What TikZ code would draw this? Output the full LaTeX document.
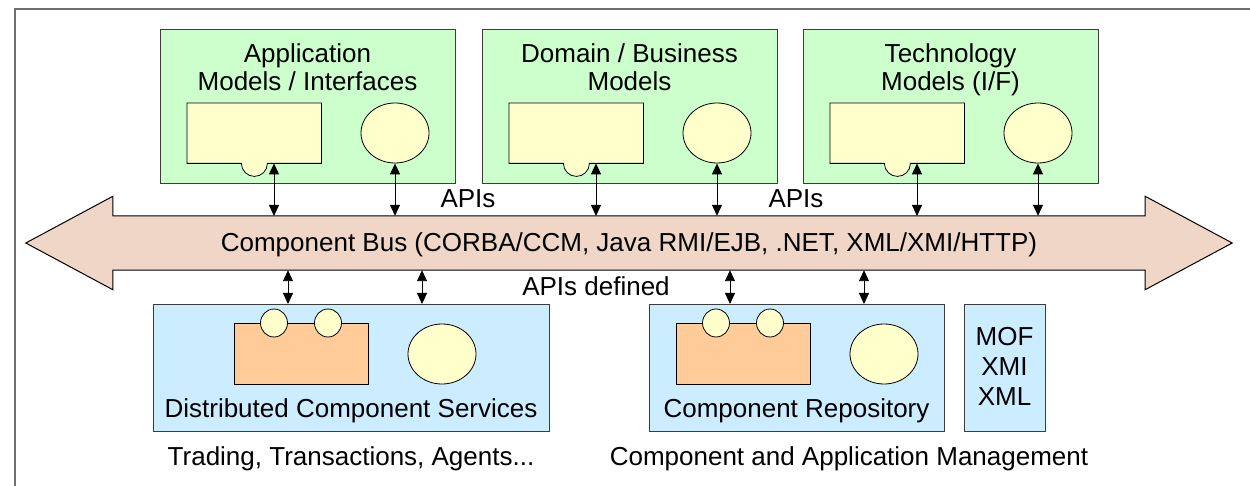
\documentclass[tikz,border=0pt]{standalone}
\usepackage{fontspec}
\setmainfont{Liberation Sans}
\usetikzlibrary{arrows.meta,shapes.geometric}

\definecolor{mint}{RGB}{204,255,204}
\definecolor{cream}{RGB}{255,255,204}
\definecolor{sky}{RGB}{204,236,255}
\definecolor{apricot}{RGB}{255,204,153}
\definecolor{blush}{RGB}{240,214,198}
\definecolor{edge}{RGB}{60,60,60}
\definecolor{framegray}{RGB}{110,110,110}

\begin{document}
\begin{tikzpicture}[x=1pt,y=-1pt,
  lbl/.style={font=\fontsize{26}{30}\selectfont, inner sep=0pt, anchor=base},
  layer/.style={draw=edge, line width=1.1pt, anchor=north west, inner sep=0pt},
  model/.style={layer, fill=mint, minimum width=295pt, minimum height=154pt},
  service/.style={layer, fill=sky, minimum height=127pt},
  slot/.style={anchor=north west, inner sep=0pt, minimum width=134pt, minimum height=60pt},
  part/.style={fill=cream, draw=black, line width=0.8pt},
  core/.style={fill=apricot, draw=black, line width=0.8pt, anchor=north west,
    inner sep=0pt, minimum width=134pt, minimum height=61pt},
  blob/.style={part, ellipse, inner sep=0pt, minimum width=68pt, minimum height=60pt},
  knob/.style={part, ellipse, inner sep=0pt, minimum width=27pt, minimum height=28pt},
  biarrow/.style={{Triangle[width=10pt,length=11pt]}-{Triangle[width=10pt,length=11pt]},
    line width=0.9pt},
]
\useasboundingbox (0,0) rectangle (1250,486);
\clip (0,0) rectangle (1250,486);

% outer frame
\draw[framegray, line width=1.5pt] (15,9) rectangle (1280,520);

% ---- component bus ----
\node[inner sep=0pt, minimum width=1032pt, minimum height=54pt] (bus) at (629,243) {};
\draw[fill=blush, draw=black, line width=1pt]
  (bus.north west) -- ([yshift=19.5pt]bus.north west) -- ([xshift=-87pt]bus.west)
  -- ([yshift=-19.5pt]bus.south west) -- (bus.south west) -- (bus.south east)
  -- ([yshift=-19.5pt]bus.south east) -- ([xshift=87pt]bus.east)
  -- ([yshift=19.5pt]bus.north east) -- (bus.north east) -- cycle;
\node[lbl] (bustxt) at (629,252) {Component Bus (CORBA/CCM, Java RMI/EJB, .NET, XML/XMI/HTTP)};

% ---- model layers (top) ----
\node[model] (m1) at (160,29) {};
\node[model] (m2) at (482,29) {};
\node[model] (m3) at (803,29) {};

\node[lbl] (m1a) at (307.5,63) {Application};
\node[lbl] (m1b) at (307.5,91) {Models / Interfaces};
\node[lbl] (m2a) at (629.5,63) {Domain / Business};
\node[lbl] (m2b) at (629.5,91) {Models};
\node[lbl] (m3a) at (950.5,63) {Technology};
\node[lbl] (m3b) at (950.5,91) {Models (I/F)};

\foreach \i/\bx in {1/160, 2/482, 3/803}{
  \node[slot] (r\i) at (\bx+27,103) {};
  \draw[part] (r\i.south west) -- (r\i.north west) -- (r\i.north east) -- (r\i.south east)
    -- ([xshift=-54pt]r\i.south east) arc[start angle=0, end angle=180, radius=13] -- cycle;
  \node[blob] (c\i) at (\bx+235,133) {};
  \coordinate (t\i) at (\bx+114,216);
  \draw[biarrow] (r\i.south -| t\i) -- (t\i);
  \draw[biarrow] (c\i.south) -- (c\i.south |- bus.north);
}

\node[lbl] (api1) at (468,208) {APIs};
\node[lbl] (api2) at (796,208) {APIs};
\node[lbl] (api3) at (596,296) {APIs defined};

% ---- service layers (bottom) ----
\node[service, minimum width=396pt] (dcs) at (153,304) {};
\node[service, minimum width=295pt] (rep) at (649,304) {};
\node[service, minimum width=81pt] (mof) at (964,304) {};

\node[core] (o1) at (234,323) {};
\node[core] (o2) at (676,323) {};
\foreach \j in {1,2}{
  \node[knob] (k\j a) at ([xshift=40pt]o\j.north west) {};
  \node[knob] (k\j b) at ([xshift=94pt]o\j.north west) {};
}
\node[blob] (b1) at (442,354) {};
\node[blob] (b2) at (884,354) {};

\coordinate (q1) at (288,304);
\coordinate (q2) at (422,304);
\coordinate (q3) at (730,304);
\coordinate (q4) at (864,304);
\foreach \k in {1,2,3,4}{
  \draw[biarrow] (bus.south -| q\k) -- (q\k);
}

\node[lbl] (dcst) at (351,417) {Distributed Component Services};
\node[lbl] (rept) at (796.5,417) {Component Repository};
\node[lbl] (mof1) at (1004.5,345) {MOF};
\node[lbl] (mof2) at (1004.5,375) {XMI};
\node[lbl] (mof3) at (1004.5,405) {XML};

\node[lbl] (trd) at (351,465) {Trading, Transactions, Agents...};
\node[lbl] (mgt) at (849,465) {Component and Application Management};
\end{tikzpicture}
\end{document}
